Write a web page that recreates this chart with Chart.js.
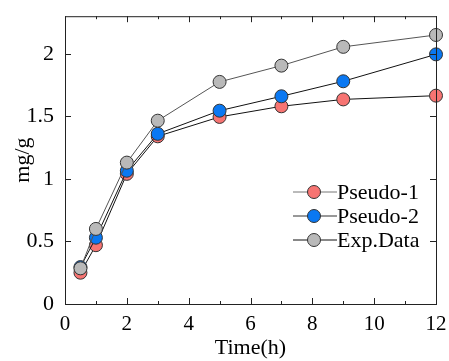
<!DOCTYPE html>
<html>
<head>
<meta charset="utf-8">
<script src="https://cdn.jsdelivr.net/npm/chart.js@4.4.1/dist/chart.umd.min.js"></script>
<style>
  html, body { margin: 0; padding: 0; background: #fff; }
  #wrap { width: 449px; height: 361px; }
</style>
</head>
<body>
<div id="wrap"><canvas id="kineticsChart"></canvas></div>
<script>
// Data
const timeH = [0.5, 1, 2, 3, 5, 7, 9, 12];
const pseudo1 = [0.25, 0.47, 1.04, 1.34, 1.495, 1.58, 1.635, 1.665];
const pseudo2 = [0.295, 0.53, 1.065, 1.36, 1.545, 1.66, 1.78, 1.995];
const expData = [0.285, 0.60, 1.13, 1.465, 1.775, 1.905, 2.055, 2.15];
const seriesNames = ['Pseudo-1', 'Pseudo-2', 'Exp.Data'];

const serif = '"Liberation Serif", "Times New Roman", serif';

function toPoints(ys) {
    return timeH.map((t, i) => ({ x: t, y: ys[i] }));
}

// Frame with inward ticks on all four sides + line/marker legend
const framePlugin = {
    id: 'frame',
    afterDatasetsDraw(chart) {
        const { ctx, chartArea: a, scales } = chart;
        const xs = scales.x, ys = scales.y;
        ctx.save();
        ctx.strokeStyle = '#222';
        ctx.lineWidth = 1;
        ctx.strokeRect(a.left + 0.5, a.top + 0.5, a.right - a.left, a.bottom - a.top);
        ctx.beginPath();
        for (let v = 0; v <= 12; v++) {
            const px = Math.round(xs.getPixelForValue(v)) + 0.5;
            const len = v % 2 === 0 ? 6 : 3;
            ctx.moveTo(px, a.bottom); ctx.lineTo(px, a.bottom - len);
            ctx.moveTo(px, a.top); ctx.lineTo(px, a.top + len);
        }
        for (let v = 0; v <= 2.25; v += 0.5) {
            const py = Math.round(ys.getPixelForValue(v)) + 0.5;
            ctx.moveTo(a.left, py); ctx.lineTo(a.left + 6, py);
            ctx.moveTo(a.right, py); ctx.lineTo(a.right - 6, py);
        }
        ctx.stroke();

        // legend
        const legendLines = ['#777', '#333', '#111'];
        ctx.font = '22px ' + serif;
        ctx.textBaseline = 'middle';
        chart.data.datasets.forEach((ds, i) => {
            const y = 192 + i * 24;
            ctx.strokeStyle = legendLines[i];
            ctx.beginPath();
            ctx.moveTo(293, y); ctx.lineTo(337, y);
            ctx.stroke();
            ctx.beginPath();
            ctx.arc(314, y, 6.5, 0, Math.PI * 2);
            ctx.fillStyle = ds.pointBackgroundColor;
            ctx.fill();
            ctx.strokeStyle = '#333';
            ctx.stroke();
            ctx.fillStyle = '#000';
            ctx.fillText(ds.label, 337, y + 1);
        });
        ctx.restore();
    }
};

function initKineticsChart() {
    const ctx = document.getElementById('kineticsChart').getContext('2d');
    new Chart(ctx, {
        type: 'scatter',
        data: {
            datasets: [{
                label: seriesNames[0],
                data: toPoints(pseudo1),
                borderColor: '#111',
                pointBackgroundColor: '#f77472',
                order: 2
            }, {
                label: seriesNames[1],
                data: toPoints(pseudo2),
                borderColor: '#111',
                pointBackgroundColor: '#0a78f2',
                order: 1
            }, {
                label: seriesNames[2],
                data: toPoints(expData),
                borderColor: '#555',
                pointBackgroundColor: '#b9b9b9',
                order: 0
            }].map(ds => Object.assign(ds, {
                showLine: true,
                borderWidth: 1,
                pointRadius: 6.5,
                pointBorderColor: '#333',
                pointBorderWidth: 1,
                clip: false
            }))
        },
        options: {
            responsive: true,
            maintainAspectRatio: false,
            animation: false,
            layout: { padding: { top: 13, right: 13, left: 0, bottom: 0 } },
            plugins: {
                legend: { display: false },
                tooltip: { enabled: false }
            },
            scales: {
                x: {
                    type: 'linear',
                    min: 0,
                    max: 12,
                    grid: { display: false },
                    border: { display: false },
                    ticks: {
                        stepSize: 2,
                        padding: 0,
                        color: '#000',
                        font: { family: serif, size: 21 }
                    },
                    title: {
                        display: true,
                        text: 'Time(h)',
                        color: '#000',
                        padding: 0,
                        font: { family: serif, size: 22 }
                    },
                    afterFit(scale) { scale.height = 57; }
                },
                y: {
                    type: 'linear',
                    min: 0,
                    max: 2.3,
                    grid: { display: false },
                    border: { display: false },
                    ticks: {
                        stepSize: 0.5,
                        padding: 3,
                        color: '#000',
                        font: { family: serif, size: 22 },
                        callback: v => (v % 0.5 === 0 ? String(v) : '')
                    },
                    title: {
                        display: true,
                        text: 'mg/g',
                        color: '#000',
                        padding: { top: 10, bottom: 0 },
                        font: { family: serif, size: 22 }
                    },
                    afterFit(scale) { scale.width = 65; }
                }
            }
        },
        plugins: [framePlugin]
    });
}

document.addEventListener('DOMContentLoaded', initKineticsChart);
</script>
</body>
</html>
